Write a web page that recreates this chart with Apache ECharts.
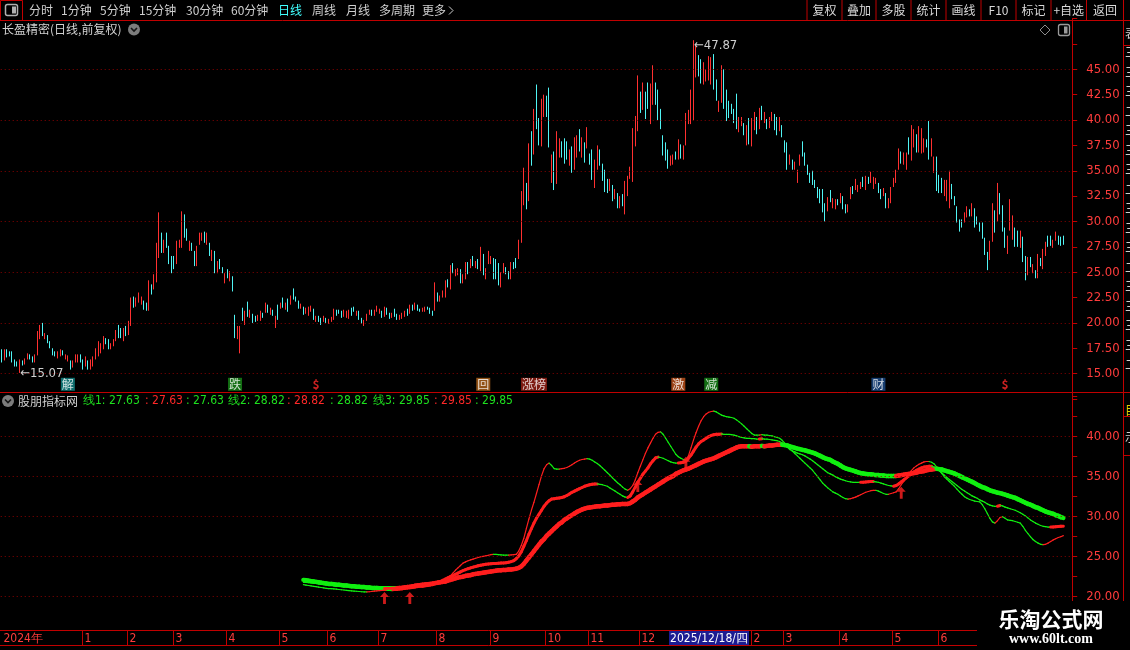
<!DOCTYPE html>
<html><head><meta charset="utf-8">
<script src="https://cdn.jsdelivr.net/npm/echarts@6/dist/echarts.min.js"></script>
<style>html,body{margin:0;padding:0;background:#000;overflow:hidden}#c{width:1130px;height:650px}</style>
</head><body><div id="c"></div>
<script>
// ---------- DATA ----------
// daily candles: [open, close, low, high]
const candles = [
[17.3,16.3,16.1,17.4],[16.4,17.3,16.3,17.4],[17.3,16.7,16.6,17.4],[17.1,16.8,16.7,17.2],[17.1,16.2,16.1,17.2],[16.3,15.8,15.7,16.4],[16.1,15.8,15.7,16.2],[15.9,16.3,15.07,16.4],[16.2,15.9,15.8,16.3],[16.0,16.4,15.9,16.5],
[16.5,16.9,16.4,17.0],[16.8,16.5,16.4,16.9],[16.6,16.2,16.1,16.7],[16.2,16.8,16.1,16.9],[16.9,19.0,16.8,19.2],[18.5,19.6,18.4,19.8],[19.9,18.8,18.7,20.0],[18.5,18.9,18.4,19.0],[18.7,18.1,18.0,18.8],[18.1,17.6,17.5,18.2],
[17.4,16.9,16.8,17.5],[17.1,16.8,16.7,17.2],[16.6,17.1,16.5,17.2],[16.8,17.3,16.7,17.4],[17.2,16.9,16.8,17.3],[16.5,16.8,16.4,16.9],[16.3,16.7,16.2,16.8],[16.2,15.5,15.4,16.3],[15.7,16.2,15.6,16.3],[16.2,16.8,16.1,16.9],
[16.3,16.7,16.1,16.9],[16.8,16.2,16.1,16.9],[16.3,15.5,15.4,16.4],[15.8,16.6,15.7,16.7],[16.2,15.5,15.4,16.3],[15.5,16.3,15.4,16.4],[15.8,16.6,15.7,16.7],[16.5,17.4,16.4,17.5],[17.0,18.0,16.7,18.2],[17.2,17.9,17.0,18.0],
[17.5,18.6,17.4,18.7],[18.4,18.0,17.9,18.5],[18.3,17.5,17.4,18.4],[17.5,17.9,17.4,18.0],[17.8,18.3,17.7,18.4],[18.3,19.2,18.2,19.3],[19.7,18.6,18.5,19.8],[19.4,18.6,18.5,19.5],[18.3,19.4,18.2,19.5],[19.6,18.8,18.7,19.7],
[18.9,20.1,18.8,20.2],[20.0,22.4,19.7,22.5],[22.5,21.6,21.5,22.6],[21.7,22.4,21.6,22.5],[22.1,22.9,22.0,23.0],[21.9,22.5,21.8,22.6],[22.1,21.4,21.3,22.2],[21.9,21.3,21.2,22.0],[21.3,24.0,21.2,24.2],[23.7,22.9,22.8,23.8],
[23.4,24.7,23.3,24.8],[24.3,27.8,24.0,27.9],[26.8,29.8,26.4,30.9],[28.8,27.0,26.9,28.9],[27.0,28.1,26.9,28.2],[28.8,27.5,27.4,28.9],[27.5,25.9,25.8,27.6],[26.5,25.0,24.9,26.6],[26.5,25.4,25.3,26.6],[25.9,28.0,25.8,28.1],
[27.5,28.1,27.4,28.2],[27.6,30.5,27.4,31.0],[30.6,28.5,28.4,30.7],[29.2,28.2,28.1,29.3],[27.2,28.0,27.1,28.1],[27.8,27.2,27.1,27.9],[27.0,25.7,25.6,27.1],[25.7,27.5,25.6,27.6],[27.8,28.8,27.7,28.9],[28.2,28.8,28.1,28.9],
[28.9,28.0,27.9,29.0],[27.8,28.8,27.7,28.9],[27.8,26.7,26.6,27.9],[26.2,27.1,26.1,27.2],[27.0,25.0,24.9,27.1],[25.0,26.0,24.9,26.1],[26.2,25.4,25.3,26.3],[25.4,25.0,24.9,25.5],[24.0,24.8,23.9,24.9],[25.2,24.5,24.4,25.3],
[24.2,25.0,24.1,25.1],[24.5,23.2,23.1,24.6],[20.7,18.6,18.5,20.8],[18.5,19.6,18.4,19.7],[18.0,19.5,17.0,19.7],[21.4,20.3,20.2,21.5],[19.9,21.1,19.8,21.2],[22.0,20.7,20.6,22.1],[20.6,21.2,20.5,21.3],[20.8,20.1,20.0,20.9],
[20.6,20.2,20.1,20.7],[20.3,20.7,20.2,20.8],[20.3,21.1,20.2,21.2],[20.9,20.6,20.5,21.0],[21.1,21.9,21.0,22.0],[21.7,21.1,21.0,21.8],[20.9,21.4,20.8,21.5],[21.2,20.8,20.7,21.3],[19.9,20.6,19.5,20.7],[21.7,20.4,20.3,21.8],
[21.5,21.9,21.4,22.0],[22.4,21.6,21.5,22.5],[21.4,21.9,21.3,22.0],[22.3,21.2,21.1,22.4],[21.9,22.6,21.8,22.7],[23.3,22.4,22.3,23.4],[22.5,22.2,22.1,22.6],[22.1,21.5,21.4,22.2],[21.5,21.8,21.4,21.9],[21.5,20.9,20.8,21.6],
[21.0,21.4,20.9,21.5],[20.8,21.5,20.7,21.6],[21.2,21.6,21.1,21.7],[21.3,20.4,20.3,21.4],[20.2,20.6,20.1,20.7],[20.6,20.2,20.1,20.7],[20.4,19.9,19.8,20.5],[20.2,20.6,20.1,20.7],[20.4,20.1,20.0,20.5],[20.0,20.3,19.9,20.4],
[20.2,20.5,20.1,20.6],[20.4,21.3,20.3,21.4],[21.2,20.8,20.7,21.3],[21.2,21.0,20.9,21.3],[21.1,20.6,20.5,21.2],[20.7,21.2,20.6,21.3],[20.6,21.1,20.5,21.2],[20.5,21.2,20.4,21.3],[21.4,20.8,20.7,21.5],[21.5,21.2,21.1,21.6],
[20.8,21.1,20.7,21.2],[21.1,20.4,20.3,21.2],[20.4,20.0,19.9,20.5],[19.8,20.2,19.7,20.3],[20.3,20.8,20.2,20.9],[20.9,21.2,20.8,21.3],[21.2,20.8,20.7,21.3],[20.8,21.2,20.7,21.3],[21.2,21.6,21.1,21.7],[21.0,21.3,20.9,21.4],
[21.1,20.6,20.5,21.2],[20.7,21.5,20.6,21.6],[21.4,20.9,20.8,21.5],[20.9,20.5,20.4,21.0],[20.6,20.9,20.5,21.0],[21.3,20.7,20.6,21.4],[20.8,20.4,20.3,20.9],[20.4,20.7,20.3,20.8],[20.5,20.9,20.4,21.0],[20.7,21.1,20.6,21.2],
[21.3,20.8,20.7,21.4],[21.0,21.7,20.9,21.8],[21.7,21.3,21.2,21.8],[21.4,21.9,21.3,22.0],[21.7,21.3,21.2,21.8],[21.3,21.2,21.1,21.4],[21.2,21.4,21.1,21.5],[21.2,21.5,21.1,21.6],[21.5,21.4,21.3,21.6],[21.4,21.0,20.9,21.5],
[21.1,20.8,20.7,21.2],[21.3,23.9,21.2,24.0],[22.9,22.2,22.1,23.0],[22.2,22.6,22.1,22.7],[22.6,23.1,22.5,23.2],[22.7,24.1,22.5,24.2],[24.2,23.6,23.5,24.3],[23.5,25.6,23.3,25.7],[25.8,25.0,24.9,25.9],[24.7,25.2,24.6,25.3],
[24.8,25.3,24.7,25.4],[25.2,24.0,23.9,25.3],[24.0,24.7,23.9,24.8],[24.4,25.9,24.3,26.0],[25.9,24.9,24.8,26.0],[25.5,26.2,25.4,26.3],[26.5,25.7,25.6,26.6],[25.5,26.0,25.4,26.1],[26.2,25.4,25.3,26.3],[25.4,27.3,25.1,27.5],
[26.7,24.8,24.7,26.8],[24.4,25.3,24.3,25.4],[25.9,27.0,25.8,27.1],[25.9,26.5,25.8,26.6],[26.3,24.4,24.3,26.4],[26.2,24.5,24.3,26.3],[25.8,23.8,23.7,25.9],[23.6,24.9,23.5,25.0],[25.0,25.8,24.9,25.9],[25.4,24.9,24.8,25.5],
[25.0,24.4,24.3,25.1],[24.4,25.9,24.3,26.0],[25.9,25.4,25.3,26.0],[26.3,25.5,25.4,26.4],[26.4,28.1,26.3,28.2],[28.2,32.9,27.9,33.0],[32.8,35.2,31.6,35.3],[33.7,31.3,31.2,33.8],[32.1,37.5,32.0,37.7],[38.8,35.6,35.5,38.9],
[36.7,41.0,36.6,41.1],[43.3,39.2,39.1,43.5],[40.1,37.6,37.5,40.2],[37.5,42.0,37.4,42.1],[40.4,42.4,40.3,42.5],[42.3,40.4,40.3,42.4],[43.1,37.4,37.3,43.2],[33.9,36.5,33.8,36.6],[36.8,33.2,33.1,36.9],[33.8,38.8,33.7,38.9],
[36.4,38.1,36.3,38.2],[37.8,36.4,36.3,37.9],[38.1,35.8,35.7,38.2],[37.8,36.2,36.1,37.9],[35.6,37.0,35.5,37.1],[37.3,34.9,34.8,37.4],[35.2,38.2,35.1,38.3],[36.4,38.4,36.3,38.5],[39.0,37.0,36.9,39.1],[36.4,38.2,36.3,38.3],
[37.7,35.9,35.8,37.8],[37.3,39.2,37.2,39.3],[36.6,35.7,35.6,36.7],[37.0,34.2,34.1,37.1],[33.4,36.0,33.3,36.1],[35.2,37.4,35.1,37.5],[37.0,35.6,35.5,37.1],[35.6,34.1,34.0,35.7],[35.0,33.0,32.9,35.1],[34.1,32.9,32.8,34.2],
[33.1,34.1,33.0,34.2],[33.5,32.1,32.0,33.6],[32.3,33.1,32.2,33.2],[32.7,31.4,31.3,32.8],[31.4,32.4,31.3,32.5],[32.6,31.6,31.5,32.7],[31.0,33.9,30.7,34.0],[32.6,34.4,32.5,34.5],[34.3,35.3,34.2,35.4],[34.0,39.0,33.9,39.2],
[37.5,40.3,37.4,40.4],[39.0,44.2,38.9,44.4],[42.7,40.8,40.7,42.8],[41.1,43.6,41.0,43.7],[42.7,40.2,40.1,42.8],[43.6,41.2,41.1,43.7],[39.7,43.5,39.6,43.6],[41.6,45.2,41.5,45.4],[43.6,41.6,41.5,43.7],[42.9,40.1,40.0,43.0],
[41.0,39.2,39.1,41.1],[38.4,36.6,36.5,38.5],[37.7,36.1,36.0,37.8],[37.0,35.3,35.2,37.1],[35.6,36.4,35.5,36.5],[35.7,36.5,35.6,36.6],[36.8,36.2,36.1,36.9],[36.2,38.0,36.1,38.1],[37.5,36.3,36.2,37.6],[36.2,37.4,36.1,37.5],
[37.6,40.6,37.5,40.7],[39.7,40.9,39.6,41.0],[39.7,42.9,39.6,43.0],[40.1,47.3,40.0,47.87],[44.3,47.2,44.2,47.3],[46.3,44.4,44.3,46.4],[45.9,43.7,43.6,46.0],[43.6,45.6,43.5,45.7],[43.9,44.9,43.8,45.0],[44.0,46.2,43.9,46.3],
[43.6,46.1,43.5,46.2],[46.4,43.1,43.0,46.5],[43.9,42.0,41.9,44.0],[40.9,41.8,40.8,41.9],[41.8,45.3,41.7,45.4],[44.9,41.2,41.1,45.0],[42.9,40.0,39.9,43.0],[41.8,40.3,40.2,41.9],[41.5,40.7,40.6,41.6],[41.0,39.8,39.7,41.1],
[42.5,39.2,39.1,42.6],[38.9,40.2,38.8,40.3],[39.5,40.2,39.4,40.3],[39.6,38.6,38.5,39.7],[37.6,39.4,37.5,39.5],[40.1,37.7,37.6,40.2],[37.5,40.1,37.4,40.2],[39.1,40.7,39.0,40.8],[40.2,38.7,38.6,40.3],[39.2,41.1,39.1,41.2],
[41.3,40.1,40.0,41.4],[39.8,40.7,39.7,40.8],[40.0,39.2,39.1,40.1],[39.3,40.2,39.2,40.3],[40.0,40.7,39.9,40.8],[40.5,39.1,39.0,40.6],[40.2,38.6,38.5,40.3],[39.0,40.2,38.9,40.3],[39.4,38.4,38.3,39.5],[37.9,36.9,36.8,38.0],
[37.7,35.2,35.1,37.8],[35.7,36.5,35.6,36.6],[36.0,35.2,35.1,36.1],[35.2,35.8,35.1,35.9],[33.9,35.0,33.8,35.1],[35.6,36.5,35.5,36.6],[37.8,36.5,36.4,37.9],[36.7,35.6,35.5,36.8],[35.5,34.7,34.6,35.6],[34.7,33.9,33.8,34.8],
[34.9,33.7,33.6,35.0],[34.0,33.4,33.3,34.1],[33.3,32.4,32.3,33.4],[33.1,31.9,31.8,33.2],[33.1,31.0,30.9,33.2],[31.7,30.1,30.0,31.8],[31.1,32.3,31.0,32.4],[33.0,32.0,31.9,33.1],[31.4,32.2,31.3,32.3],[31.3,32.1,31.2,32.2],
[32.1,31.7,31.6,32.2],[31.9,32.7,31.8,32.8],[32.4,31.3,31.2,32.5],[31.6,30.9,30.8,31.7],[31.0,31.6,30.9,31.7],[32.3,33.3,32.2,33.4],[33.4,32.8,32.7,33.5],[33.2,34.1,33.1,34.2],[33.0,33.5,32.9,33.6],[33.3,33.8,33.2,33.9],
[34.3,33.5,33.4,34.4],[33.2,34.4,33.1,34.5],[34.3,33.8,33.7,34.4],[33.9,34.8,33.8,34.9],[33.3,34.3,33.2,34.4],[33.8,34.2,33.7,34.3],[33.7,32.9,32.8,33.8],[33.1,32.3,32.2,33.2],[32.6,33.2,32.5,33.3],[32.7,31.4,31.3,32.8],
[31.4,32.2,31.3,32.3],[31.9,33.3,31.8,33.4],[33.5,34.2,33.4,34.3],[33.9,35.0,33.8,35.1],[35.2,37.1,35.1,37.2],[36.8,35.8,35.7,36.9],[35.7,36.7,35.6,36.8],[35.2,36.7,35.1,36.8],[38.2,36.7,36.6,38.3],[36.1,39.4,36.0,39.5],
[37.4,39.0,37.3,39.1],[38.5,36.9,36.8,38.6],[36.9,39.3,36.8,39.4],[36.8,39.1,36.7,39.2],[36.9,38.1,36.8,38.2],[38.0,37.4,37.3,38.1],[39.8,36.2,36.1,39.9],[36.5,38.1,36.4,38.2],[34.9,36.3,34.8,36.4],[36.3,33.1,33.0,36.4],
[34.5,32.9,32.8,34.6],[34.2,32.9,32.8,34.3],[32.6,34.0,32.5,34.1],[32.1,34.0,32.0,34.1],[31.4,34.9,31.3,35.0],[33.6,32.3,32.2,33.7],[32.4,31.7,31.6,32.5],[31.4,30.0,29.9,31.5],[30.1,29.1,29.0,30.2],[30.1,29.5,29.4,30.2],
[30.0,30.8,29.9,30.9],[30.5,31.4,30.4,31.5],[31.1,30.6,30.5,31.2],[30.6,31.7,30.5,31.8],[31.2,29.5,29.4,31.3],[30.4,29.8,29.7,30.5],[29.8,29.1,29.0,29.9],[29.8,28.4,28.3,29.9],[28.3,26.8,26.7,28.4],[26.9,25.3,25.2,27.0],
[26.3,28.0,26.2,28.1],[28.1,31.7,28.0,31.8],[31.0,29.0,28.9,31.1],[30.1,33.7,30.0,33.8],[32.7,30.8,30.7,32.8],[31.5,29.1,29.0,31.6],[29.3,27.5,27.4,29.4],[26.9,28.5,26.8,28.6],[29.2,32.1,29.1,32.2],[28.3,30.5,28.2,30.6],
[29.3,27.6,27.5,29.4],[29.0,27.6,27.5,29.1],[27.5,29.0,27.4,29.1],[28.4,26.1,26.0,28.5],[26.5,24.3,24.2,26.6],[24.8,26.4,24.7,26.5],[26.4,25.6,25.5,26.5],[25.0,25.7,24.9,25.8],[25.1,24.5,24.4,25.2],[24.5,26.7,24.4,26.8],
[26.3,25.7,25.6,26.4],[25.4,27.2,25.3,27.3],[26.7,27.9,26.6,28.0],[28.5,27.6,27.5,28.6],[28.5,27.7,27.6,28.6],[27.5,28.1,27.4,28.2],[28.2,28.9,28.1,29.0],[28.5,27.8,27.7,28.6],[28.4,27.7,27.6,28.5],[28.5,27.8,27.7,28.6]
];
const slotCount = 423;           // candle slots on the time axis (last 3 empty)
const indStart = 119;            // first bar that has indicator values
const line1 = [
21.5,21.45,21.4,21.35,21.3,21.25,21.2,21.15,21.1,21.05,
21.02,21.0,20.97,20.94,20.9,20.87,20.84,20.8,20.77,20.74,
20.7,20.68,20.65,20.62,20.6,20.6,20.62,20.65,20.7,20.73,
20.77,20.8,20.8,20.8,20.78,20.77,20.78,20.8,20.84,20.88,
20.93,20.98,21.05,21.13,21.2,21.27,21.33,21.4,21.46,21.52,
21.58,21.62,21.7,21.78,21.84,21.9,22.1,22.35,22.6,22.95,
23.3,23.6,23.9,24.2,24.35,24.5,24.6,24.7,24.8,24.9,
25.0,25.05,25.1,25.18,25.25,25.3,25.28,25.25,25.22,25.2,
25.2,25.2,25.22,25.25,25.3,25.7,26.4,27.3,28.5,29.7,
30.8,31.8,32.9,34.0,35.1,36.0,36.5,36.7,36.4,36.0,
35.95,35.95,36.0,36.05,36.15,36.3,36.5,36.7,36.9,37.05,
37.15,37.2,37.25,37.2,37.05,36.85,36.65,36.4,36.1,35.8,
35.5,35.2,34.85,34.55,34.25,34.0,33.7,33.45,33.3,33.5,
33.9,34.6,35.5,36.3,37.1,37.9,38.6,39.2,39.8,40.3,
40.55,40.6,40.3,39.8,39.3,38.8,38.3,37.8,37.5,37.3,
37.15,37.1,37.6,38.6,39.6,40.5,41.3,42.0,42.5,42.85,
43.05,43.15,43.2,43.1,42.9,42.7,42.6,42.5,42.45,42.4,
42.3,42.1,41.85,41.6,41.3,41.0,40.7,40.4,40.2,40.2,
40.2,40.25,40.2,40.2,40.15,40.1,40.0,39.9,39.8,39.55,
39.2,38.85,38.5,38.2,37.9,37.6,37.3,37.0,36.7,36.4,
36.1,35.8,35.4,35.0,34.6,34.2,33.9,33.6,33.35,33.1,
32.95,32.8,32.6,32.4,32.25,32.2,32.25,32.35,32.45,32.6,
32.75,32.9,33.05,33.15,33.25,33.3,33.3,33.2,33.05,32.9,
32.8,32.8,32.9,33.0,33.1,33.5,34.0,34.4,34.8,35.3,
35.75,36.1,36.35,36.55,36.7,36.85,36.9,36.9,36.8,36.6,
36.2,35.8,35.4,35.0,34.7,34.4,34.1,33.8,33.45,33.1,
32.8,32.5,32.3,32.15,32.05,31.95,31.9,31.85,31.5,31.0,
30.4,29.8,29.35,29.2,29.5,29.9,30.0,29.8,29.6,29.55,
29.5,29.4,29.3,29.2,28.8,28.3,27.9,27.5,27.15,26.9,
26.7,26.55,26.5,26.55,26.7,26.9,27.1,27.25,27.4,27.5,
27.63];
const line2 = [
21.8,21.78,21.76,21.74,21.7,21.66,21.62,21.58,21.55,21.52,
21.5,21.48,21.46,21.45,21.43,21.4,21.38,21.35,21.33,21.3,
21.28,21.26,21.24,21.21,21.18,21.15,21.12,21.1,21.08,21.07,
21.05,21.03,21.02,21.03,21.04,21.05,21.07,21.1,21.13,21.17,
21.21,21.26,21.32,21.38,21.45,21.5,21.54,21.58,21.62,21.65,
21.68,21.7,21.75,21.8,21.9,22.05,22.2,22.35,22.5,22.62,
22.8,22.95,23.1,23.25,23.38,23.5,23.6,23.7,23.78,23.86,
23.93,24.0,24.05,24.1,24.12,24.14,24.16,24.18,24.2,24.22,
24.25,24.3,24.38,24.5,24.75,25.1,25.6,26.3,27.0,27.8,
28.5,29.2,29.8,30.3,30.8,31.3,31.7,32.0,32.2,32.25,
32.3,32.35,32.4,32.5,32.65,32.85,33.05,33.2,33.35,33.5,
33.65,33.8,33.9,34.0,34.05,34.1,34.1,34.05,34.0,33.9,
33.8,33.6,33.4,33.2,33.0,32.8,32.6,32.45,32.4,32.6,
33.1,33.7,34.3,34.8,35.3,35.7,36.1,36.6,37.0,37.35,
37.45,37.4,37.3,37.15,37.0,36.85,36.75,36.7,36.7,36.75,
36.8,36.95,37.3,37.7,38.2,38.7,39.1,39.4,39.6,39.8,
40.0,40.15,40.25,40.3,40.3,40.35,40.3,40.3,40.3,40.25,
40.2,40.1,40.0,39.9,39.85,39.8,39.8,39.75,39.75,39.7,
39.7,39.75,39.7,39.7,39.65,39.6,39.55,39.5,39.4,39.2,
38.95,38.7,38.4,38.25,38.1,37.95,37.85,37.75,37.6,37.4,
37.2,37.0,36.75,36.5,36.25,36.0,35.75,35.5,35.35,35.2,
35.0,34.85,34.7,34.6,34.5,34.4,34.35,34.3,34.3,34.3,
34.3,34.32,34.35,34.38,34.4,34.4,34.35,34.3,34.2,34.1,
34.0,33.9,33.85,33.8,33.9,34.1,34.35,34.6,34.85,35.1,
35.35,35.6,35.8,35.95,36.1,36.2,36.25,36.3,36.3,36.2,
36.0,35.75,35.5,35.2,34.9,34.65,34.4,34.15,33.9,33.65,
33.4,33.2,33.0,32.8,32.6,32.45,32.3,32.1,31.95,31.8,
31.6,31.45,31.35,31.3,31.3,31.4,31.35,31.2,31.1,31.0,
30.9,30.8,30.65,30.5,30.3,30.1,29.85,29.6,29.4,29.2,
29.05,28.9,28.8,28.75,28.7,28.7,28.72,28.75,28.78,28.8,
28.82];
const line3 = [
22.1,22.05,22.0,21.95,21.9,21.85,21.8,21.75,21.7,21.65,
21.6,21.6,21.55,21.5,21.5,21.45,21.4,21.4,21.35,21.3,
21.3,21.25,21.25,21.2,21.2,21.15,21.15,21.1,21.1,21.1,
21.05,21.05,21.05,21.05,21.05,21.05,21.05,21.05,21.1,21.1,
21.15,21.2,21.2,21.25,21.3,21.35,21.4,21.4,21.45,21.5,
21.55,21.6,21.7,21.75,21.8,21.85,21.9,22.0,22.1,22.2,
22.3,22.4,22.45,22.5,22.6,22.65,22.7,22.8,22.85,22.9,
22.95,23.0,23.05,23.1,23.15,23.2,23.25,23.3,23.3,23.35,
23.35,23.4,23.4,23.45,23.5,23.6,23.8,24.1,24.5,24.9,
25.3,25.7,26.1,26.5,26.9,27.2,27.6,27.9,28.2,28.5,
28.8,29.1,29.3,29.6,29.8,30.0,30.2,30.4,30.6,30.75,
30.9,31.0,31.1,31.15,31.2,31.25,31.3,31.3,31.35,31.4,
31.4,31.45,31.5,31.5,31.55,31.55,31.6,31.6,31.6,31.7,
31.9,32.1,32.4,32.6,32.8,33.0,33.2,33.4,33.6,33.8,
34.0,34.2,34.4,34.6,34.8,34.95,35.1,35.35,35.5,35.65,
35.8,35.9,36.0,36.15,36.3,36.45,36.6,36.75,36.9,37.0,
37.1,37.2,37.3,37.45,37.6,37.75,37.9,38.05,38.2,38.35,
38.5,38.65,38.75,38.8,38.8,38.8,38.8,38.75,38.8,38.8,
38.8,38.85,38.8,38.85,38.9,38.9,38.95,39.0,39.0,39.0,
38.95,38.9,38.8,38.7,38.6,38.5,38.45,38.35,38.3,38.2,
38.1,38.0,37.9,37.75,37.6,37.45,37.3,37.2,37.1,36.9,
36.75,36.6,36.4,36.2,36.05,35.95,35.85,35.75,35.65,35.55,
35.45,35.4,35.35,35.3,35.3,35.25,35.2,35.2,35.15,35.15,
35.1,35.1,35.1,35.1,35.1,35.15,35.2,35.25,35.3,35.35,
35.4,35.45,35.5,35.6,35.65,35.7,35.8,35.85,35.9,35.95,
36.0,35.95,35.9,35.8,35.7,35.6,35.5,35.4,35.25,35.1,
34.95,34.8,34.65,34.5,34.35,34.2,34.0,33.85,33.7,33.6,
33.45,33.3,33.2,33.1,33.0,32.95,32.85,32.75,32.65,32.55,
32.45,32.35,32.2,32.05,31.9,31.75,31.6,31.5,31.35,31.2,
31.1,30.95,30.8,30.65,30.55,30.45,30.35,30.2,30.1,29.95,
29.85];
const lineNames = ['线1','线2','线3'];
const lastValues = [27.63, 28.82, 29.85];
const buyArrows = [[151,20.6],[161,20.6],[251,34.6],[270,37.5],[355,33.75]];
const signalIdx = [26,92,124,190,210,267,280,346,396];
const signalText = ['解','跌','$','回','涨榜','激','减','财','$'];
const lowMark = [7, 15.07];
const highMark = [273, 47.87];
const monthIdx = [0,32,50,68,89,110,129,149,172,193,215,232,252,296,309,331,352,370];
const monthText = ['2024年','1','2','3','4','5','6','7','8','9','10','11','12','2','3','4','5','6'];
const cursorIdx = 264, cursorText = '2025/12/18/四';
const priceGridLevels = [15,20,25,30,35,40,45];
const indGridLevels = [20,25,30,35,40];

// ---------- STYLE ----------
const RED = '#ff1e1e', GRN = '#10f010', FRAME = '#c00000', AXL = '#ff3c3c';
const CJK = "'Noto Sans CJK SC','Noto Sans',sans-serif";
const NUM = "'Liberation Sans Narrow','DejaVu Sans Condensed','Liberation Sans',sans-serif";
const signalBg = {'解':'#138a8a','跌':'#188a18','回':'#b5661c','涨榜':'#9c2014','激':'#c4541c','减':'#188a18','财':'#1c4c8c'};
const categories = Array.from({length: slotCount}, (_, i) => String(i));

function segData(arr) {
  const out = []; let dir = 1;
  for (let k = 1; k < arr.length; k++) {
    if (arr[k] > arr[k-1]) dir = 1; else if (arr[k] < arr[k-1]) dir = 0;
    out.push([indStart + k - 1, arr[k-1], arr[k], dir]);
  }
  return out;
}
function segSeries(arr, upW, dnW, z) {
  return {
    type: 'custom', xAxisIndex: 1, yAxisIndex: 1, z, silent: true, animation: false,
    data: segData(arr), encode: {x: 0, y: [1, 2]},
    renderItem: (p, api) => {
      const a = api.coord([api.value(0), api.value(1)]);
      const b = api.coord([api.value(0) + 1, api.value(2)]);
      const up = api.value(3) === 1;
      return {type: 'line', shape: {x1: a[0], y1: a[1], x2: b[0], y2: b[1]},
        style: {stroke: up ? RED : GRN, lineWidth: up ? upW : dnW, lineCap: 'round'}};
    }
  };
}

// ---------- DECORATION (frame, toolbar, headers) ----------
const G = [];
const ln = (x1, y1, x2, y2, c, w) => G.push({type: 'line', silent: true, z: 50, shape: {x1, y1, x2, y2}, style: {stroke: c || FRAME, lineWidth: w || 1}});
const tx = (x, y, t, c, f, align) => G.push({type: 'text', silent: true, z: 60, x, y, style: {text: t, fill: c, font: f, textVerticalAlign: 'middle', textAlign: align || 'left'}});
// toolbar
ln(0, 20.5, 1130, 20.5);
G.push({type: 'rect', z: 50, shape: {x: 0.5, y: 0.5, width: 22, height: 20}, style: {fill: 'none', stroke: FRAME}});
G.push({type: 'rect', z: 51, shape: {x: 5.5, y: 4.5, width: 12, height: 11, r: 2}, style: {fill: 'none', stroke: '#b0b0b0', lineWidth: 1.5}});
G.push({type: 'rect', z: 52, shape: {x: 12, y: 6.5, width: 4, height: 7}, style: {fill: '#b0b0b0'}});
const tbLeft = [['分时',29],['1分钟',61],['5分钟',100],['15分钟',139],['30分钟',186],['60分钟',231],['日线',278],['周线',312],['月线',346],['多周期',379],['更多',422]];
tbLeft.forEach(([t, x]) => tx(x, 10.5, t, t === '日线' ? '#40ffff' : '#cfcfcf', '12px ' + CJK));
G.push({type: 'polyline', z: 60, shape: {points: [[449, 6.5], [453, 10.5], [449, 14.5]]}, style: {stroke: '#cfcfcf', fill: 'none', lineWidth: 1}});
const tbSep = [807,842,876,911,946,981,1016,1051,1086.5,1123.5];
tbSep.forEach(x => ln(x, 0, x, 20.5));
const tbRight = ['复权','叠加','多股','统计','画线','F10','标记','+自选','返回'];
tbRight.forEach((t, k) => tx((tbSep[k] + tbSep[k+1]) / 2, 10.5, t, '#d8d8d8', '12px ' + CJK, 'center'));
// title row
tx(2, 29.5, '长盈精密(日线,前复权)', '#d2d2d2', '12px ' + CJK);
G.push({type: 'circle', z: 60, shape: {cx: 134, cy: 29.5, r: 6}, style: {fill: '#7c7c7c'}});
G.push({type: 'polyline', z: 61, shape: {points: [[131, 28], [134, 31], [137, 28]]}, style: {stroke: '#151515', fill: 'none', lineWidth: 1.6}});
G.push({type: 'polygon', z: 60, shape: {points: [[1045, 25], [1050, 30], [1045, 35], [1040, 30]]}, style: {fill: 'none', stroke: '#8c8c8c'}});
G.push({type: 'rect', z: 60, shape: {x: 1058.5, y: 24.5, width: 11, height: 11, r: 2}, style: {fill: 'none', stroke: '#9a9a9a', lineWidth: 1.3}});
G.push({type: 'rect', z: 61, shape: {x: 1064, y: 26.5, width: 3.5, height: 7}, style: {fill: '#9a9a9a'}});
// frame lines
ln(1072.5, 20.5, 1072.5, 601);
ln(1123.5, 0, 1123.5, 601);
ln(0, 392.5, 1130, 392.5);
ln(0, 630.5, 977, 630.5);
ln(0, 645.5, 977, 645.5);
[45.5, 416.5, 455.5].forEach(y => ln(1123.5, y, 1130, y));
const stripChars = ['表','三','三','三','二','三','三','三','二','三','三','三','二','三','三','三','三','二'];
stripChars.forEach((c, k) => tx(1125, 33 + k * 19.5, c, '#d0d0d0', '12px ' + CJK));
tx(1125, 410, '目', '#e0d000', '12px ' + CJK);
tx(1125, 437, '示', '#d0d0d0', '12px ' + CJK);
// indicator header
G.push({type: 'circle', z: 60, shape: {cx: 8, cy: 401, r: 6}, style: {fill: '#7c7c7c'}});
G.push({type: 'polyline', z: 61, shape: {points: [[5, 399.5], [8, 402.5], [11, 399.5]]}, style: {stroke: '#151515', fill: 'none', lineWidth: 1.6}});
tx(18, 401, '股朋指标网', '#cfcfcf', '12px ' + CJK);
const hdrX = [83,145,186,228,287,330,373,434,475];
const HG = '#1ee01e';
lastValues.forEach((v, k) => {
  const s = v.toFixed(2);
  tx(hdrX[3*k], 401, lineNames[k] + ': ' + s, HG, '12px ' + NUM);
  tx(hdrX[3*k+1], 401, ': ' + s, '#ff2828', '12px ' + NUM);
  tx(hdrX[3*k+2], 401, ': ' + s, HG, '12px ' + NUM);
});
// watermark
G.push({type: 'rect', z: 90, shape: {x: 977, y: 601, width: 153, height: 49}, style: {fill: '#000'}});
G.push({type: 'text', z: 91, x: 1051, y: 619, style: {text: '乐淘公式网', fill: '#ffffff', font: 'bold 21px ' + CJK, textAlign: 'center', textVerticalAlign: 'middle'}});
G.push({type: 'text', z: 91, x: 1051, y: 639, style: {text: 'www.60lt.com', fill: '#ffffff', font: 'bold 14px "Liberation Serif",serif', textAlign: 'center', textVerticalAlign: 'middle'}});

// ---------- CHART ----------
const chart = echarts.init(document.getElementById('c'), null, {renderer: 'canvas'});
const gridBase = {left: 0.73, right: 57.8, containLabel: false};
const dotted = {color: '#8a0000', type: [1, 3], width: 1};
chart.setOption({
  backgroundColor: '#000',
  animation: false,
  grid: [
    Object.assign({top: 18.6, height: 380.4}, gridBase),
    Object.assign({top: 396.7, height: 240}, gridBase)
  ],
  xAxis: [
    {gridIndex: 0, type: 'category', data: categories, boundaryGap: true, show: false},
    {gridIndex: 1, type: 'category', data: categories, boundaryGap: true, show: false}
  ],
  yAxis: [
    {gridIndex: 0, type: 'value', position: 'right', min: 12.5, max: 50, interval: 2.5,
      splitLine: {show: false},
      axisLine: {show: true, lineStyle: {color: FRAME}},
      axisTick: {show: true, length: 5, lineStyle: {color: FRAME}},
      axisLabel: {color: AXL, fontSize: 13, fontFamily: NUM, margin: 14, formatter: v => (v < 14 || v > 46) ? '' : v.toFixed(2)}},
    {gridIndex: 1, type: 'value', position: 'right', min: 15, max: 45, interval: 2.5,
      splitLine: {show: false},
      axisLine: {show: true, lineStyle: {color: FRAME}},
      axisTick: {show: true, length: 5, lineStyle: {color: FRAME}},
      axisLabel: {color: AXL, fontSize: 13, fontFamily: NUM, margin: 14, formatter: v => (v % 5 === 0 && v >= 20 && v <= 40) ? v.toFixed(2) : ''}}
  ],
  series: [
    {type: 'candlestick', xAxisIndex: 0, yAxisIndex: 0, data: candles, barWidth: 1, silent: true,
      itemStyle: {color: '#ff3030', color0: '#50f4f4', borderColor: '#ff3030', borderColor0: '#50f4f4', borderWidth: 1},
      markLine: {silent: true, symbol: ['none', 'none'], animation: false, label: {show: false}, lineStyle: dotted,
        data: priceGridLevels.map(v => ({yAxis: v}))},
      markPoint: {silent: true, animation: false, symbol: 'circle', symbolSize: 1, itemStyle: {color: 'rgba(0,0,0,0)'},
        label: {show: true, position: 'right', distance: 0, color: '#d0d0d0', fontSize: 13, fontFamily: NUM},
        data: [
          {coord: lowMark, label: {formatter: '←' + lowMark[1].toFixed(2), offset: [0, 1]}},
          {coord: highMark, label: {formatter: '←' + highMark[1].toFixed(2), offset: [0, 5]}}
        ]}},
    {type: 'scatter', xAxisIndex: 0, yAxisIndex: 0, silent: true, symbolSize: 1, itemStyle: {color: 'rgba(0,0,0,0)'}, z: 5,
      data: signalIdx.map((x, k) => {
        const t = signalText[k], isS = t === '$';
        return {value: [x, 13.95], label: {show: true, position: 'inside', formatter: t,
          color: isS ? '#ff2a2a' : '#ffffff', fontWeight: isS ? 'bold' : 'normal',
          backgroundColor: isS ? 'transparent' : signalBg[t], fontSize: 12, fontFamily: CJK,
          padding: [1, 1, 0, 1], lineHeight: 12}};
      })},
    segSeries(line3, 4.5, 4.5, 2),
    segSeries(line2, 3, 1.2, 3),
    segSeries(line1, 1.2, 1.2, 4),
    {type: 'scatter', xAxisIndex: 1, yAxisIndex: 1, silent: true, z: 6,
      symbol: 'path://M5,0 L10,5 L6.6,5 L6.6,12 L3.4,12 L3.4,5 L0,5 Z', symbolSize: [9, 12], symbolOffset: [0, '50%'],
      itemStyle: {color: '#ff2020'}, data: buyArrows,
      markLine: {silent: true, symbol: ['none', 'none'], animation: false, label: {show: false}, lineStyle: dotted,
        data: indGridLevels.map(v => ({yAxis: v}))}}
  ],
  graphic: {elements: G}
});

// time bar: separators and month labels placed through the category axis scale
const px = i => chart.convertToPixel({xAxisIndex: 0}, i);
const band = px(1) - px(0);
const T = [];
monthIdx.forEach((idx, k) => {
  const xl = Math.round(px(idx) - band / 2) + 0.5;
  if (idx > 0) T.push({type: 'line', silent: true, z: 50, shape: {x1: xl, y1: 630.5, x2: xl, y2: 645.5}, style: {stroke: FRAME, lineWidth: 1}});
  T.push({type: 'text', silent: true, z: 60, x: xl + 2, y: 638.5, style: {text: monthText[k], fill: AXL, font: '12px ' + NUM, textVerticalAlign: 'middle', textAlign: 'left'}});
});
const xc = Math.round(px(cursorIdx) - band / 2);
T.push({type: 'rect', silent: true, z: 70, shape: {x: xc, y: 631, width: 80, height: 14}, style: {fill: '#1c1c92'}});
T.push({type: 'text', silent: true, z: 71, x: xc + 40, y: 638.5, style: {text: cursorText, fill: '#ffffff', font: '12px ' + NUM, textVerticalAlign: 'middle', textAlign: 'center'}});
chart.setOption({graphic: {elements: G.concat(T)}});
</script>
</body></html>
